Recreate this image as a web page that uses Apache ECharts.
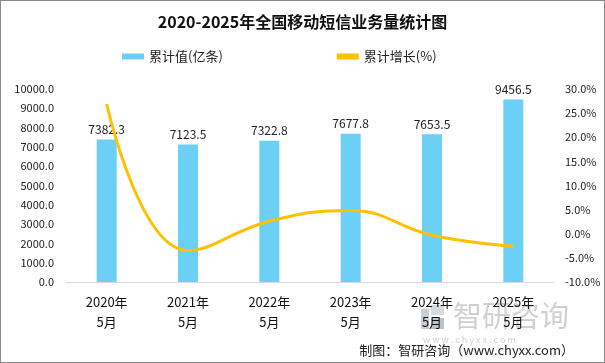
<!DOCTYPE html>
<html><head><meta charset="utf-8">
<script src="https://cdn.jsdelivr.net/npm/echarts@6/dist/echarts.min.js"></script>
<style>html,body{margin:0;padding:0;background:#fff}#c{width:605px;height:363px;box-sizing:border-box;border:1px solid #8a8a8a}</style>
</head><body><div id="c"></div>
<script>
const categories = ['2020年\n5月','2021年\n5月','2022年\n5月','2023年\n5月','2024年\n5月','2025年\n5月'];
const volume = [7382.3, 7123.5, 7322.8, 7677.8, 7653.5, 9456.5];
const growth = [26.9, -3.5, 2.6, 4.8, -0.3, -2.6];
const leftTicks = [0, 10000, 1000];
const rightTicks = [-10, 30, 5];
const FONT = '"Microsoft YaHei","Noto Sans CJK SC",sans-serif';
const chart = echarts.init(document.getElementById('c'), null, {renderer:'canvas'});
chart.setOption({
  animation:false,
  textStyle:{fontFamily:FONT},
  title:{text:'2020-2025年全国移动短信业务量统计图',left:'center',top:8,textStyle:{fontSize:16,fontWeight:'bold',color:'#111',fontFamily:FONT}},
  legend:{top:44,left:116,itemGap:114,itemWidth:22,itemHeight:6,textStyle:{fontSize:13,color:'#222',fontFamily:FONT},
    data:[{name:'累计值(亿条)',icon:'rect'},{name:'累计增长(%)',icon:'rect'}]},
  grid:{left:65,right:50,top:88,bottom:80,containLabel:false},
  xAxis:{type:'category',data:categories,axisLine:{lineStyle:{color:'#d9d9d9'}},axisTick:{show:false},
    axisLabel:{fontSize:13,color:'#111',lineHeight:20,margin:10,fontFamily:FONT}},
  yAxis:[
    {type:'value',min:leftTicks[0],max:leftTicks[1],interval:leftTicks[2],splitLine:{show:false},axisLine:{show:false},axisTick:{show:false},
     axisLabel:{fontSize:11,color:'#222',margin:12,formatter:v=>v.toFixed(1)}},
    {type:'value',min:rightTicks[0],max:rightTicks[1],interval:rightTicks[2],splitLine:{show:false},axisLine:{show:false},axisTick:{show:false},
     axisLabel:{fontSize:11,color:'#222',margin:11,formatter:v=>v.toFixed(1)+'%'}}
  ],
  series:[
    {name:'累计值(亿条)',type:'bar',data:volume,barWidth:20,itemStyle:{color:'#6ccff6'},
     label:{show:true,position:'top',distance:4,fontSize:12,color:'#222',formatter:p=>p.value.toFixed(1)}},
    {name:'累计增长(%)',type:'line',yAxisIndex:1,data:growth,smooth:0.45,symbol:'none',
     lineStyle:{color:'#ffc000',width:3},itemStyle:{color:'#ffc000'}}
  ],
  graphic:[
    {type:'group',left:420,top:300,children:[
      {type:'rect',shape:{x:0,y:4,width:8,height:20},style:{fill:'#c9cfd6'}},
      {type:'rect',shape:{x:10,y:0,width:13,height:10},style:{fill:'#d6dbe0'}},
      {type:'rect',shape:{x:10,y:13,width:13,height:11},style:{fill:'#b9c3cc'}},
      {type:'text',x:32,y:-4,style:{text:'智研咨询',fontSize:29,fill:'rgba(150,150,150,0.45)',fontFamily:FONT}},
      {type:'text',x:2,y:30,style:{text:'w w w . c h y x x . c o m',fontSize:9,fill:'rgba(150,150,150,0.45)',fontFamily:FONT}}
    ]},
    {type:'text',right:30,top:343,style:{text:'制图：智研咨询（www.chyxx.com）',fontSize:13,fill:'#222',fontFamily:FONT}}
  ]
});
</script></body></html>
